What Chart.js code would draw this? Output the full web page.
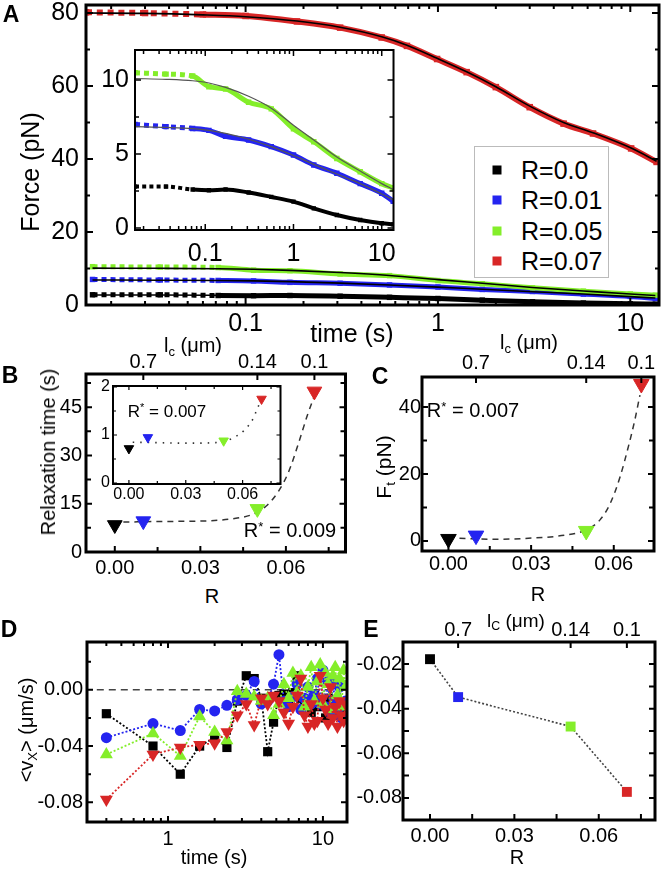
<!DOCTYPE html>
<html>
<head>
<meta charset="utf-8">
<script src="https://cdn.jsdelivr.net/npm/chart.js@4.4.1/dist/chart.umd.min.js"></script>
<style>
body{margin:0;width:664px;height:872px;overflow:hidden;background:#fff;position:relative;font-family:"Liberation Sans",Arial,sans-serif;color:#000}
canvas{position:absolute}
.t{position:absolute;transform:translate(-50%,-50%);white-space:nowrap;line-height:1}
.r{transform:translate(-50%,-50%) rotate(-90deg)}
.l{transform:translate(0,-50%)}
.p{font-weight:bold;font-size:23px}
sub{font-size:65%;vertical-align:-0.3em;line-height:0}
sup{font-size:65%;vertical-align:0.5em;line-height:0}
#leg{position:absolute;left:474px;top:146px;width:133px;height:130px;border:1px solid #bbb;background:#fff}
.mk{position:absolute;width:9px;height:9px;transform:translate(-50%,-50%)}
</style>
</head>
<body>
<canvas id="cA"></canvas>
<canvas id="cAi"></canvas>
<div id="leg"></div>
<div class="mk" style="left:497px;top:170px;background:#000"></div>
<div class="mk" style="left:497px;top:200px;background:#2424f0"></div>
<div class="mk" style="left:497px;top:231px;background:#84ee2a"></div>
<div class="mk" style="left:497px;top:261px;background:#d82626"></div>
<div class="t l" style="left:521px;top:170px;font-size:25px">R=0.0</div>
<div class="t l" style="left:521px;top:200px;font-size:25px">R=0.01</div>
<div class="t l" style="left:521px;top:231px;font-size:25px">R=0.05</div>
<div class="t l" style="left:521px;top:261px;font-size:25px">R=0.07</div>
<canvas id="cB"></canvas>
<canvas id="cBi"></canvas>
<canvas id="cC"></canvas>
<canvas id="cD"></canvas>
<canvas id="cE"></canvas>

<div class="t p" style="left:11px;top:14px">A</div>
<div class="t r" style="left:30px;top:172px;font-size:25px">Force (pN)</div>
<div class="t" style="left:352px;top:333px;font-size:25px">time (s)</div>

<div class="t p" style="left:10px;top:375px">B</div>
<div class="t" style="left:193px;top:345px;font-size:20px">l<sub>c</sub> (μm)</div>
<div class="t r" style="left:48px;top:452px;font-size:20px">Relaxation time (s)</div>
<div class="t" style="left:212px;top:596px;font-size:20px">R</div>
<div class="t" style="left:290px;top:530px;font-size:20px">R<sup>*</sup> = 0.009</div>
<div class="t" style="left:167px;top:411px;font-size:17px">R<sup>*</sup> = 0.007</div>

<div class="t p" style="left:380px;top:376px">C</div>
<div class="t" style="left:529px;top:342px;font-size:20px">l<sub>c</sub> (μm)</div>
<div class="t r" style="left:383px;top:467px;font-size:21px">F<sub>t</sub> (pN)</div>
<div class="t" style="left:538px;top:594px;font-size:20px">R</div>
<div class="t" style="left:473px;top:410px;font-size:20px">R<sup>*</sup> = 0.007</div>

<div class="t p" style="left:9px;top:629px">D</div>
<div class="t r" style="left:26px;top:730px;font-size:20px">&lt;v<sub>X</sub>&gt; (μm/s)</div>
<div class="t" style="left:214px;top:857px;font-size:20px">time (s)</div>

<div class="t p" style="left:371px;top:629px">E</div>
<div class="t" style="left:516px;top:620px;font-size:19px">l<sub>C</sub> (μm)</div>
<div class="t" style="left:517px;top:857px;font-size:20px">R</div>

<script>
// ---- panel A: force relaxation curves (inset reuses the three low-R curves)
const tA = [0.016, 0.036, 0.072, 0.11, 0.17, 0.31, 0.56, 1.0, 1.7, 3.1, 5.7, 10, 13.5];
const fR00 = [2.8, 2.8, 2.6, 2.55, 2.6, 2.4, 2.1, 1.78, 1.33, 0.88, 0.54, 0.32, 0.25];
const fR01 = [7.0, 6.85, 6.73, 6.6, 6.2, 5.95, 5.5, 4.93, 4.26, 3.7, 3.0, 2.35, 1.8];
const fR05 = [10.5, 10.4, 10.27, 9.55, 9.4, 8.5, 8.05, 6.7, 5.83, 4.7, 3.8, 3.0, 2.7];
const fitR00 = [2.75, 2.72, 2.65, 2.6, 2.52, 2.38, 2.1, 1.76, 1.34, 0.9, 0.55, 0.33, 0.25];
const fitR01 = [6.85, 6.8, 6.72, 6.6, 6.4, 6.0, 5.5, 4.9, 4.3, 3.65, 3.0, 2.3, 1.9];
const fitR05 = [10.1, 10.05, 9.95, 9.8, 9.5, 8.9, 8.1, 6.95, 5.95, 4.8, 3.85, 3.0, 2.6];
const tRed = [0.0148, 0.03, 0.06, 0.1, 0.185, 0.31, 0.51, 0.69, 0.99, 1.41, 2.0, 3.0, 4.5, 6.4, 10.1, 13.7];
const fR07 = [80.2, 80, 79.6, 79.2, 77.7, 76, 73.3, 71, 67.4, 63.8, 59.7, 54.2, 49.7, 47, 42.9, 39.2];
const fitR07 = [80, 79.9, 79.5, 79, 77.8, 76.1, 73.5, 71.2, 67.6, 63.9, 59.8, 54.5, 50, 47.2, 43, 39.4];
const forceTicks = [0, 20, 40, 60, 80];
const insetTicks = [0, 5, 10];
const timeTicks = [0.1, 1, 10];

// ---- panels B, C, E share the R values and top l_c axis
const rVals = [0, 0.01, 0.05, 0.07];
const lcAtR = [0.01, 0.05, 0.07];
const lcLabels = ['0.7', '0.14', '0.1'];
const rTicks = [0, 0.03, 0.06];
const tauB = [8.4, 9.6, 13.4, 49.9];
const rFitB = [0.003, 0.018, 0.03, 0.041, 0.048, 0.053, 0.0575, 0.061, 0.0645, 0.0675, 0.07];
const tauFitB = [9.3, 9.5, 9.6, 10.3, 11.6, 14.2, 19, 25, 34, 42.4, 48.5];
const tauInset = [0.72, 0.95, 0.88, 1.75];
const rFitIn = [0.002, 0.015, 0.03, 0.045, 0.05, 0.055, 0.061, 0.0654, 0.068, 0.07];
const tauFitIn = [0.85, 0.84, 0.83, 0.84, 0.86, 0.94, 1.1, 1.33, 1.57, 1.75];
const ftC = [0.6, 1.6, 3.0, 46.9];
const rFitC = [0.004, 0.017, 0.029, 0.041, 0.05, 0.055, 0.0587, 0.0623, 0.0653, 0.0676, 0.0695];
const ftFitC = [0.8, 0.5, 0.8, 1.6, 3.3, 6.3, 11.2, 19.2, 28.2, 36, 43.6];
const vE = [-0.0178, -0.0348, -0.048, -0.0773];

// ---- panel D: mean velocity vs time
const tD = [0.4,0.8,1.2,1.6,2.0,2.4,2.8,3.2,3.6,4.0,4.4,4.8,5.2,5.6,6.0,6.4,6.8,7.2,7.6,8.0,8.4,8.8,9.2,9.6,10.0,10.4,10.8,11.2,11.6,12.0,12.4,12.8,13.2,13.6,14.0];
const vD00 = [-0.017,-0.040,-0.060,-0.040,-0.034,-0.041,-0.008,0.010,0.008,-0.006,-0.044,-0.023,-0.004,-0.003,-0.008,-0.002,0.010,-0.006,-0.010,-0.008,-0.016,-0.004,-0.012,-0.008,-0.010,-0.020,-0.006,-0.014,-0.010,-0.018,-0.008,-0.012,-0.016,-0.010,-0.012];
const vD01 = [-0.034,-0.024,-0.029,-0.014,-0.015,-0.011,-0.007,-0.004,0.006,-0.010,-0.008,0.004,0.025,-0.008,-0.012,-0.005,0.004,-0.014,-0.006,0.002,-0.010,-0.004,0.008,-0.010,0.014,-0.012,0.006,-0.016,0.004,-0.008,-0.014,0.002,-0.020,-0.010,-0.008];
const vD05 = [-0.046,-0.031,-0.047,-0.019,-0.030,-0.036,-0.001,-0.003,-0.005,-0.008,-0.006,-0.018,-0.010,0.004,-0.006,0.012,-0.002,0.010,-0.012,0.002,0.016,-0.008,0.006,0.018,-0.010,0.012,0.004,-0.014,0.010,0.016,-0.004,0.008,-0.012,0.014,0.002];
const vD07 = [-0.078,-0.046,-0.041,-0.039,-0.038,-0.030,-0.018,-0.010,-0.025,-0.006,-0.010,-0.004,-0.008,-0.016,-0.024,-0.012,-0.004,0.008,-0.018,-0.026,-0.010,-0.024,-0.022,0.010,-0.006,-0.014,-0.024,0.002,-0.020,-0.012,-0.026,-0.008,-0.018,-0.022,-0.010];
const vTicks = [-0.08, -0.04, 0];
const vETicks = [-0.08, -0.06, -0.04, -0.02];

const BLACK = '#000', BLUE = '#2424f0', GREEN = '#84ee2a', RED = '#d82626';
const COLS = [BLACK, BLUE, GREEN, RED];

Chart.defaults.font.family = '"Liberation Sans", Arial, sans-serif';
Chart.defaults.color = '#000';
Chart.defaults.animation = false;

// box + inward ticks on all four sides
Chart.register({
  id: 'frame',
  beforeDraw(chart, args, o) {
    if (!o.fill) return;
    const c = chart.chartArea, ctx = chart.ctx;
    ctx.save(); ctx.fillStyle = '#fff'; ctx.fillRect(c.left, c.top, c.width, c.height); ctx.restore();
  },
  afterDraw(chart, args, o) {
    const ctx = chart.ctx, c = chart.chartArea;
    const sx = chart.scales.x, sy = chart.scales.y, top = chart.scales.x2;
    ctx.save();
    ctx.strokeStyle = '#000';
    ctx.lineWidth = o.tw;
    ctx.beginPath();
    const vx = (v, len) => {
      const p = sx.getPixelForValue(v);
      ctx.moveTo(p, c.bottom); ctx.lineTo(p, c.bottom - len);
      if (!top) { ctx.moveTo(p, c.top); ctx.lineTo(p, c.top + len); }
    };
    sx.ticks.forEach(t => vx(t.value, o.len));
    (o.xMinor || []).forEach(v => vx(v, o.minLen));
    if (top) top.ticks.forEach(t => {
      const p = top.getPixelForValue(t.value);
      ctx.moveTo(p, c.top); ctx.lineTo(p, c.top + o.len);
    });
    const hy = (v, len) => {
      const p = sy.getPixelForValue(v);
      ctx.moveTo(c.left, p); ctx.lineTo(c.left + len, p);
      ctx.moveTo(c.right, p); ctx.lineTo(c.right - len, p);
    };
    sy.ticks.forEach(t => hy(t.value, o.len));
    (o.yMinor || []).forEach(v => hy(v, o.minLen));
    ctx.stroke();
    ctx.lineWidth = o.lw;
    ctx.strokeRect(c.left, c.top, c.width, c.height);
    ctx.restore();
  }
});

function xy(xs, ys) { return xs.map((x, i) => ({x: x, y: ys[i]})); }

function logMinor(lo, hi) {
  const out = [];
  for (let d = 0.01; d < 100; d *= 10)
    for (let k = 2; k < 10; k++) { const v = k * d; if (v > lo && v < hi) out.push(v); }
  return out;
}

function axis(o) {
  return {
    type: o.type || 'linear', position: o.pos, min: o.min, max: o.max,
    grid: {display: false, drawTicks: false}, border: {display: false},
    afterBuildTicks: s => { s.ticks = o.ticks.map(v => ({value: v})); },
    afterFit: s => { if (s.isHorizontal()) s.height = o.size; else s.width = o.size; },
    ticks: {font: {size: o.font}, padding: o.pad, autoSkip: false, maxRotation: 0, minRotation: 0,
            color: '#000', callback: o.fmt || (v => String(v))}
  };
}

function make(id, box, m, datasets, scales, frame, hasTop) {
  const c = document.getElementById(id);
  c.width = box.r - box.l + m.l + m.r;
  c.height = box.b - box.t + m.t + m.b;
  c.style.left = (box.l - m.l) + 'px';
  c.style.top = (box.t - m.t) + 'px';
  return new Chart(c, {
    type: 'scatter',
    data: {datasets: datasets},
    options: {
      responsive: false, devicePixelRatio: 1,
      layout: {padding: {top: hasTop ? 0 : m.t, right: m.r, left: 0, bottom: 0}},
      scales: scales,
      plugins: {legend: {display: false}, tooltip: {enabled: false}, frame: frame}
    }
  });
}

function band(xs, ys, color, w) {
  return {data: xy(xs, ys), showLine: true, borderColor: color, backgroundColor: color,
          borderWidth: w, pointStyle: 'rect', pointRadius: w / 1.3, pointBorderWidth: 0,
          cubicInterpolationMode: 'monotone', order: 2,
          segment: {borderDash: ctx => ctx.p1.parsed.x < 0.075 ? [w, w * 0.8] : undefined}};
}
function fit(xs, ys, color, w) {
  return {data: xy(xs, ys), showLine: true, borderColor: color, borderWidth: w, pointRadius: 0,
          cubicInterpolationMode: 'monotone', order: 0};
}
function tri(xs, ys, r, ord) {
  return {data: xy(xs, ys), pointStyle: 'triangle', pointRotation: 180, pointRadius: r,
          pointBackgroundColor: COLS, pointBorderColor: COLS, pointBorderWidth: 1, order: ord || 0};
}
function dashed(xs, ys, dash, w) {
  return {data: xy(xs, ys), showLine: true, borderColor: '#333', borderWidth: w, borderDash: dash,
          pointRadius: 0, cubicInterpolationMode: 'monotone', order: 1};
}
const fmt2 = v => v.toFixed(2);
const lcFmt = (v, i) => lcLabels[i];

// ---- A main
make('cA', {l: 86, t: 5, r: 659, b: 305}, {l: 80, t: 26, r: 5, b: 40}, [
  band(tRed, fR07, RED, 6), band(tA, fR05, GREEN, 5), band(tA, fR01, BLUE, 5), band(tA, fR00, BLACK, 5),
  fit(tRed, fitR07, BLACK, 1.6), fit(tA, fitR05, BLACK, 1.6), fit(tA, fitR01, BLACK, 1.6), fit(tA, fitR00, BLACK, 1.6)
], {
  x: axis({type: 'logarithmic', pos: 'bottom', min: 0.0148, max: 14.1, ticks: timeTicks, size: 40, font: 25, pad: 4}),
  y: axis({pos: 'left', min: 0, max: 82.2, ticks: forceTicks, size: 80, font: 25, pad: 7})
}, {lw: 3, tw: 2, len: 7, minLen: 4, xMinor: logMinor(0.0148, 14.1), yMinor: [10, 30, 50, 70]});

// ---- A inset
make('cAi', {l: 135, t: 50, r: 397, b: 230}, {l: 48, t: 26, r: 8, b: 40}, [
  band(tA, fR05, GREEN, 5), band(tA, fR01, BLUE, 5), band(tA, fR00, BLACK, 4),
  fit(tA, fitR05, '#555', 1.2), fit(tA, fitR01, '#555', 1.2)
], {
  x: axis({type: 'logarithmic', pos: 'bottom', min: 0.016, max: 13.6, ticks: timeTicks, size: 40, font: 25, pad: 9}),
  y: axis({pos: 'left', min: -0.135, max: 12.03, ticks: insetTicks, size: 48, font: 25, pad: 6})
}, {lw: 2, tw: 1.5, len: 6, minLen: 4, fill: true, xMinor: logMinor(0.016, 13.6), yMinor: [2.5, 7.5]});

// ---- B
make('cB', {l: 86, t: 374, r: 347, b: 552}, {l: 60, t: 30, r: 8, b: 32}, [
  tri(rVals, tauB, 8.5), dashed(rFitB, tauFitB, [6, 5], 1.5)
], {
  x: axis({pos: 'bottom', min: -0.0101, max: 0.0809, ticks: rTicks, size: 32, font: 20, pad: 4, fmt: fmt2}),
  x2: axis({pos: 'top', min: -0.0101, max: 0.0809, ticks: lcAtR, size: 30, font: 20, pad: 0, fmt: lcFmt}),
  y: axis({pos: 'left', min: 0, max: 55.3, ticks: [0, 15, 30, 45], size: 60, font: 20, pad: 4})
}, {lw: 3, tw: 2, len: 6, minLen: 5, xMinor: [0.015, 0.045, 0.075], yMinor: [7.5, 22.5, 37.5, 52.5]}, true);

// ---- B inset
make('cBi', {l: 113, t: 386, r: 281, b: 484}, {l: 30, t: 20, r: 6, b: 24}, [
  tri(rVals, tauInset, 5.5), dashed(rFitIn, tauFitIn, [1.5, 6], 1.6)
], {
  x: axis({pos: 'bottom', min: -0.0084, max: 0.080, ticks: rTicks, size: 24, font: 16, pad: 1, fmt: fmt2}),
  y: axis({pos: 'left', min: -0.02, max: 2.02, ticks: [0, 1, 2], size: 30, font: 16, pad: 3})
}, {lw: 2, tw: 1.2, len: 4, minLen: 3, fill: true, xMinor: [0.015, 0.045, 0.075], yMinor: [0.5, 1.5]});

// ---- C
make('cC', {l: 422, t: 377, r: 658, b: 551}, {l: 40, t: 33, r: 6, b: 30}, [
  tri(rVals, ftC, 9), dashed(rFitC, ftFitC, [6, 5], 1.5)
], {
  x: axis({pos: 'bottom', min: -0.0096, max: 0.0746, ticks: rTicks, size: 30, font: 20, pad: 1, fmt: fmt2}),
  x2: axis({pos: 'top', min: -0.0096, max: 0.0746, ticks: lcAtR, size: 33, font: 20, pad: 2, fmt: lcFmt}),
  y: axis({pos: 'left', min: -3, max: 49, ticks: [0, 20, 40], size: 40, font: 20, pad: 1})
}, {lw: 3, tw: 2, len: 6, minLen: 5, xMinor: [0.015, 0.045], yMinor: [10, 30]}, true);

// ---- D
function vSeries(ys, color, style, r, rot, ord) {
  return {data: xy(tD, ys), showLine: true, borderColor: color, borderWidth: 1.8, borderDash: [2, 2],
          pointStyle: style, pointRotation: rot, pointRadius: r, pointBackgroundColor: color,
          pointBorderColor: color, pointBorderWidth: 0, order: ord};
}
make('cD', {l: 87, t: 642, r: 347, b: 822}, {l: 75, t: 22, r: 8, b: 32}, [
  {data: [{x: 0.347, y: 0}, {x: 14.3, y: 0}], showLine: true, borderColor: '#444', borderWidth: 1.5,
   borderDash: [7, 5], pointRadius: 0, order: 9},
  vSeries(vD00, BLACK, 'rect', 6.5, 0, 4),
  vSeries(vD01, BLUE, 'circle', 5.5, 0, 3),
  vSeries(vD05, GREEN, 'triangle', 7.5, 0, 2),
  vSeries(vD07, RED, 'triangle', 7.5, 180, 1)
], {
  x: axis({type: 'logarithmic', pos: 'bottom', min: 0.347, max: 14.3, ticks: [1, 10], size: 32, font: 20, pad: 5}),
  y: axis({pos: 'left', min: -0.094, max: 0.034, ticks: vTicks, size: 75, font: 20, pad: 4, fmt: fmt2})
}, {lw: 3, tw: 2, len: 6, minLen: 4, xMinor: logMinor(0.347, 14.3), yMinor: [-0.06, -0.02, 0.02]});

// ---- E
make('cE', {l: 403, t: 642, r: 655, b: 820}, {l: 62, t: 28, r: 9, b: 30}, [
  {data: xy(rVals, vE), showLine: true, borderColor: '#444', borderWidth: 1.6, borderDash: [2, 2],
   pointStyle: 'rect', pointRadius: 7, pointBackgroundColor: COLS, pointBorderColor: COLS, pointBorderWidth: 0}
], {
  x: axis({pos: 'bottom', min: -0.0096, max: 0.080, ticks: rTicks, size: 30, font: 20, pad: 4, fmt: fmt2}),
  x2: axis({pos: 'top', min: -0.0096, max: 0.080, ticks: lcAtR, size: 28, font: 20, pad: 0, fmt: lcFmt}),
  y: axis({pos: 'left', min: -0.0899, max: -0.0101, ticks: vETicks, size: 62, font: 20, pad: 1, fmt: fmt2})
}, {lw: 3, tw: 2, len: 6, minLen: 6, xMinor: [0.015, 0.045, 0.075], yMinor: [-0.07, -0.05, -0.03]}, true);
</script>
</body>
</html>
